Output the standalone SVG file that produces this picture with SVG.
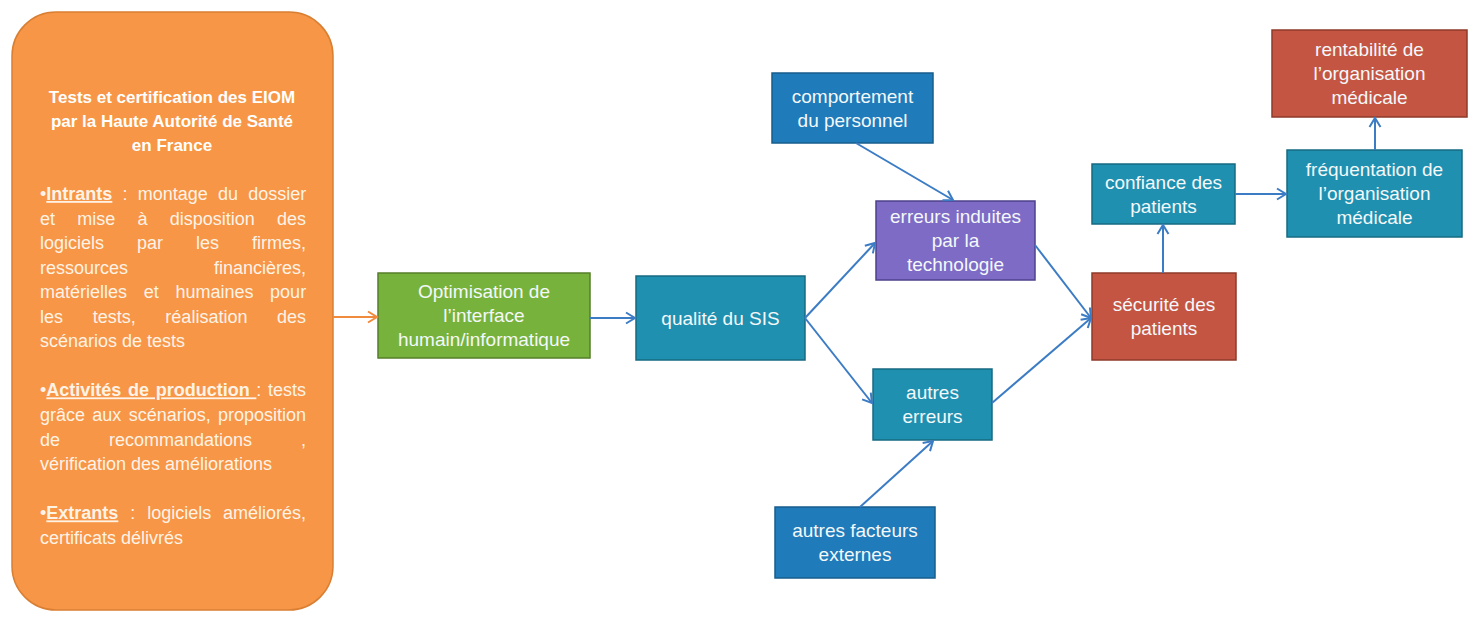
<svg xmlns="http://www.w3.org/2000/svg" width="1468" height="620" viewBox="0 0 1468 620">
  <style>
    .node-label { font-family: "Liberation Sans", Arial, sans-serif; font-size: 19px; fill: #F4F8FA; text-anchor: middle; }
    .body { font-family: "Liberation Sans", Arial, sans-serif; font-size: 18px; fill: #FFF3E6; }
    .title { font-family: "Liberation Sans", Arial, sans-serif; font-size: 17px; font-weight: bold; fill: #FFFFFF; text-anchor: middle; }
    .b { font-weight: bold; }
    .u { text-decoration: underline; }
    .teal { fill: #1F90AF; stroke: #176A82; stroke-width: 1.5; }
    .blue { fill: #1F7BB9; stroke: #175E8D; stroke-width: 1.5; }
    .purple { fill: #7D6BC6; stroke: #4F418C; stroke-width: 1.5; }
    .red { fill: #C55543; stroke: #8E3A2A; stroke-width: 1.5; }
    .green { fill: #77B33C; stroke: #557F2A; stroke-width: 1.5; }
    .link { fill: none; stroke: #3C7CC4; stroke-width: 2; marker-end: url(#arrow); }
    .link-orange { fill: none; stroke: #F08A3C; stroke-width: 2; marker-end: url(#arrow-orange); }
  </style>
  <defs>
    <marker id="arrow" viewBox="-11 -7 13 14" refX="0" refY="0" markerWidth="13" markerHeight="14" markerUnits="userSpaceOnUse" orient="auto">
      <path d="M-9,-5.5 L0,0 L-9,5.5" fill="none" stroke="#3C7CC4" stroke-width="2"/>
    </marker>
    <marker id="arrow-orange" viewBox="-11 -7 13 14" refX="0" refY="0" markerWidth="13" markerHeight="14" markerUnits="userSpaceOnUse" orient="auto">
      <path d="M-9,-5.5 L0,0 L-9,5.5" fill="none" stroke="#F08A3C" stroke-width="2"/>
    </marker>
  </defs>

  <rect width="1468" height="620" fill="#FFFFFF"/>

  <!-- Evaluation programme description (justified paragraphs via word-spacing) -->
  <g id="node-certification">
    <rect x="12" y="12" width="321" height="598" rx="44" ry="44" fill="#F79646" stroke="#D97F33" stroke-width="1.5"/>
    <text class="title" x="172" y="103">Tests et certification des EIOM</text>
    <text class="title" x="172" y="127">par la Haute Autorité de Santé</text>
    <text class="title" x="172" y="151">en France</text>

    <text class="body" x="40" y="200" word-spacing="5.2">•<tspan class="b u">Intrants</tspan> : montage du dossier</text>
    <text class="body" x="40" y="224.6" word-spacing="17.25">et mise à disposition des</text>
    <text class="body" x="40" y="249" word-spacing="28">logiciels par les firmes,</text>
    <text class="body" x="40" y="273.6">ressources</text>
    <text class="body" x="306" y="273.6" text-anchor="end">financières,</text>
    <text class="body" x="40" y="298" word-spacing="11.67">matérielles et humaines pour</text>
    <text class="body" x="40" y="322.6" word-spacing="24.67">les tests, réalisation des</text>
    <text class="body" x="40" y="347.2">scénarios de tests</text>

    <text class="body" x="40" y="396.4" word-spacing="1.67">•<tspan class="b u">Activités de production </tspan>: tests</text>
    <text class="body" x="40" y="421" word-spacing="2.3">grâce aux scénarios, proposition</text>
    <text class="body" x="40" y="445.6" word-spacing="44">de recommandations ,</text>
    <text class="body" x="40" y="470.2">vérification des améliorations</text>

    <text class="body" x="40" y="519.4" word-spacing="6.9">•<tspan class="b u">Extrants</tspan> : logiciels améliorés,</text>
    <text class="body" x="40" y="544">certificats délivrés</text>
  </g>

  <g id="node-optimisation">
    <rect class="green" x="378" y="273" width="212" height="85"/>
    <text class="node-label" x="484" y="297.5">Optimisation de</text>
    <text class="node-label" x="484" y="321.5">l’interface</text>
    <text class="node-label" x="484" y="345.5">humain/informatique</text>
  </g>

  <g id="node-qualite">
    <rect class="teal" x="636" y="276" width="169" height="84"/>
    <text class="node-label" x="720.5" y="324.5">qualité du SIS</text>
  </g>

  <g id="node-comportement">
    <rect class="blue" x="772" y="73" width="161" height="70"/>
    <text class="node-label" x="852.5" y="102.5">comportement</text>
    <text class="node-label" x="852.5" y="126.5">du personnel</text>
  </g>

  <g id="node-erreurs-induites">
    <rect class="purple" x="876" y="201" width="159" height="79"/>
    <text class="node-label" x="955.5" y="223">erreurs induites</text>
    <text class="node-label" x="955.5" y="247">par la</text>
    <text class="node-label" x="955.5" y="271">technologie</text>
  </g>

  <g id="node-autres-erreurs">
    <rect class="teal" x="873" y="369" width="119" height="71"/>
    <text class="node-label" x="932.5" y="399">autres</text>
    <text class="node-label" x="932.5" y="423">erreurs</text>
  </g>

  <g id="node-facteurs-externes">
    <rect class="blue" x="775" y="507" width="160" height="71"/>
    <text class="node-label" x="855" y="537">autres facteurs</text>
    <text class="node-label" x="855" y="561">externes</text>
  </g>

  <g id="node-securite">
    <rect class="red" x="1092" y="273" width="144" height="87"/>
    <text class="node-label" x="1164" y="311">sécurité des</text>
    <text class="node-label" x="1164" y="335">patients</text>
  </g>

  <g id="node-confiance">
    <rect class="teal" x="1092" y="164" width="143" height="60"/>
    <text class="node-label" x="1163.5" y="188.5">confiance des</text>
    <text class="node-label" x="1163.5" y="212.5">patients</text>
  </g>

  <g id="node-frequentation">
    <rect class="teal" x="1287" y="150" width="175" height="87"/>
    <text class="node-label" x="1374.5" y="176">fréquentation de</text>
    <text class="node-label" x="1374.5" y="200">l’organisation</text>
    <text class="node-label" x="1374.5" y="224">médicale</text>
  </g>

  <g id="node-rentabilite">
    <rect class="red" x="1272" y="30" width="195" height="87"/>
    <text class="node-label" x="1369.5" y="56">rentabilité de</text>
    <text class="node-label" x="1369.5" y="80">l’organisation</text>
    <text class="node-label" x="1369.5" y="104">médicale</text>
  </g>

  <!-- Connectors -->
  <g id="connectors">
    <path class="link-orange" d="M333,317 L377,317"/>
    <path class="link" d="M590,318 L635,318"/>
    <path class="link" d="M805,318 L875,243"/>
    <path class="link" d="M805,318 L872,403"/>
    <path class="link" d="M856,143 L953,200"/>
    <path class="link" d="M860,507 L933,441"/>
    <path class="link" d="M1035,245 L1091,318"/>
    <path class="link" d="M992,403 L1091,318"/>
    <path class="link" d="M1163,273 L1163,225"/>
    <path class="link" d="M1235,194 L1286,194"/>
    <path class="link" d="M1375,150 L1375,118"/>
  </g>
</svg>
